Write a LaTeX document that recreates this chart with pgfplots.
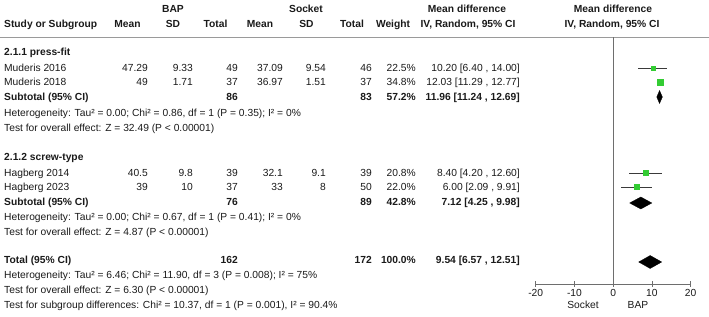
\documentclass[border=0pt]{standalone}
\usepackage{fontspec}
\setmainfont{Liberation Sans}
\usepackage{pgfplots}
\pgfplotsset{compat=1.18}
\definecolor{txt}{HTML}{1A1A1A}
\definecolor{rulec}{HTML}{9A9A9A}
\definecolor{axgray}{HTML}{6E6E6E}
\definecolor{sqgreen}{HTML}{33CC33}
\definecolor{cigray}{HTML}{3A3A3A}

\newcommand{\fs}{\fontsize{10.3}{12}\selectfont}
% y, study, m1, sd1, n1, m2, sd2, n2, weight
\newcommand{\studyrow}[9]{%
  \node[L] at (axis cs:4,-#1) {#2};
  \node[R] at (axis cs:148,-#1) {#3};
  \node[R] at (axis cs:193,-#1) {#4};
  \node[R] at (axis cs:238,-#1) {#5};
  \node[R] at (axis cs:283,-#1) {#6};
  \node[R] at (axis cs:326,-#1) {#7};
  \node[R] at (axis cs:372,-#1) {#8};
  \node[R] at (axis cs:416,-#1) {#9};
}
\newcommand{\mdcell}[2]{\node[R] at (axis cs:520,-#1) {#2};}

\begin{document}
\begin{tikzpicture}[every node/.style={text=txt, inner sep=0pt, font=\fs, text height=1.5ex, text depth=.3ex},
  L/.style={anchor=west}, R/.style={anchor=east}, C/.style={anchor=center}]
\begin{axis}[at={(0,0)}, anchor=south west, scale only axis, width=709bp, height=317bp,
  xmin=0, xmax=709, ymin=-317, ymax=0, axis lines=none, ticks=none, clip=false]
% header rule
\addplot[rulec, line width=1.6pt] coordinates {(0,-37.5) (709,-37.5)};
% headers
\node[C, font=\fs\bfseries] at (axis cs:173,-9) {BAP};
\node[C, font=\fs\bfseries] at (axis cs:306,-9) {Socket};
\node[C, font=\fs\bfseries] at (axis cs:467,-9) {Mean difference};
\node[C, font=\fs\bfseries] at (axis cs:613,-9) {Mean difference};
\node[L, font=\fs\bfseries] at (axis cs:4,-24) {Study or Subgroup};
\node[C, font=\fs\bfseries] at (axis cs:127.5,-24) {Mean};
\node[C, font=\fs\bfseries] at (axis cs:173,-24) {SD};
\node[C, font=\fs\bfseries] at (axis cs:215.5,-24) {Total};
\node[C, font=\fs\bfseries] at (axis cs:260,-24) {Mean};
\node[C, font=\fs\bfseries] at (axis cs:306.5,-24) {SD};
\node[C, font=\fs\bfseries] at (axis cs:352,-24) {Total};
\node[C, font=\fs\bfseries] at (axis cs:393,-24) {Weight};
\node[C, font=\fs\bfseries] at (axis cs:468,-24) {IV, Random, 95\% CI};
\node[C, font=\fs\bfseries] at (axis cs:612,-24) {IV, Random, 95\% CI};
% group 1
\node[L, font=\fs\bfseries] at (axis cs:4,-52) {2.1.1 press-fit};
\studyrow{68}{Muderis 2016}{47.29}{9.33}{49}{37.09}{9.54}{46}{22.5\%}
\mdcell{68}{10.20 [6.40 , 14.00]}
\studyrow{82}{Muderis 2018}{49}{1.71}{37}{36.97}{1.51}{37}{34.8\%}
\mdcell{82}{12.03 [11.29 , 12.77]}
\node[L, font=\fs\bfseries] at (axis cs:4,-97) {Subtotal (95\% CI)};
\node[R, font=\fs\bfseries] at (axis cs:238,-97) {86};
\node[R, font=\fs\bfseries] at (axis cs:372,-97) {83};
\node[R, font=\fs\bfseries] at (axis cs:416,-97) {57.2\%};
\node[R, font=\fs\bfseries] at (axis cs:520,-97) {11.96 [11.24 , 12.69]};
\node[L] at (axis cs:4,-113) {Heterogeneity: Tau² = 0.00; Chi² = 0.86, df = 1 (P = 0.35); I² = 0\%};
\node[L] at (axis cs:4,-128) {Test for overall effect: Z = 32.49 (P < 0.00001)};
% group 2
\node[L, font=\fs\bfseries] at (axis cs:4,-157) {2.1.2 screw-type};
\studyrow{173}{Hagberg 2014}{40.5}{9.8}{39}{32.1}{9.1}{39}{20.8\%}
\mdcell{173}{8.40 [4.20 , 12.60]}
\studyrow{187}{Hagberg 2023}{39}{10}{37}{33}{8}{50}{22.0\%}
\mdcell{187}{6.00 [2.09 , 9.91]}
\node[L, font=\fs\bfseries] at (axis cs:4,-202) {Subtotal (95\% CI)};
\node[R, font=\fs\bfseries] at (axis cs:238,-202) {76};
\node[R, font=\fs\bfseries] at (axis cs:372,-202) {89};
\node[R, font=\fs\bfseries] at (axis cs:416,-202) {42.8\%};
\node[R, font=\fs\bfseries] at (axis cs:520,-202) {7.12 [4.25 , 9.98]};
\node[L] at (axis cs:4,-217) {Heterogeneity: Tau² = 0.00; Chi² = 0.67, df = 1 (P = 0.41); I² = 0\%};
\node[L] at (axis cs:4,-232) {Test for overall effect: Z = 4.87 (P < 0.00001)};
% total
\node[L, font=\fs\bfseries] at (axis cs:4,-260) {Total (95\% CI)};
\node[R, font=\fs\bfseries] at (axis cs:238,-260) {162};
\node[R, font=\fs\bfseries] at (axis cs:372,-260) {172};
\node[R, font=\fs\bfseries] at (axis cs:416,-260) {100.0\%};
\node[R, font=\fs\bfseries] at (axis cs:520,-260) {9.54 [6.57 , 12.51]};
\node[L] at (axis cs:4,-275) {Heterogeneity: Tau² = 6.46; Chi² = 11.90, df = 3 (P = 0.008); I² = 75\%};
\node[L] at (axis cs:4,-290) {Test for overall effect: Z = 6.30 (P < 0.00001)};
\node[L] at (axis cs:4,-305) {Test for subgroup differences: Chi² = 10.37, df = 1 (P = 0.001), I² = 90.4\%};
% axis side labels
\node[C] at (axis cs:583,-305) {Socket};
\node[C] at (axis cs:638,-305) {BAP};
\end{axis}

\begin{axis}[at={(535.7bp,33bp)}, anchor=south west, scale only axis, width=155bp, height=246.5bp,
  xmin=-20, xmax=20, ymin=-284, ymax=-37.5, axis x line=bottom, axis y line=none,
  xtick={-20,-10,0,10,20}, tick align=center, major tick length=6bp,
  axis line style={axgray, line width=0.8pt, -}, tick style={axgray, line width=0.8pt},
  xticklabel style={font=\fs, text=txt, inner sep=1pt},
  /pgf/number format/assume math mode=true, clip=false]
% zero line
\addplot[axgray, line width=0.8pt] coordinates {(0,-37.5) (0,-284)};
% confidence intervals
\addplot[cigray, line width=0.8pt] coordinates {(6.40,-68) (14.00,-68)};
\addplot[cigray, line width=0.8pt] coordinates {(11.29,-82) (12.77,-82)};
\addplot[cigray, line width=0.8pt] coordinates {(4.20,-173) (12.60,-173)};
\addplot[cigray, line width=0.8pt] coordinates {(2.09,-187) (9.91,-187)};
% study estimates
\addplot[only marks, mark=square*, mark size=2bp, sqgreen] coordinates {(10.20,-68)};
\addplot[only marks, mark=square*, mark size=3bp, sqgreen] coordinates {(12.03,-82)};
\addplot[only marks, mark=square*, mark size=2.4bp, sqgreen] coordinates {(8.40,-173)};
\addplot[only marks, mark=square*, mark size=2.4bp, sqgreen] coordinates {(6.00,-187)};
% pooled diamonds
\addplot[fill=black, draw=black, line width=0.3pt] coordinates {(11.24,-97) (11.96,-90.5) (12.69,-97) (11.96,-103.5)} -- cycle;
\addplot[fill=black, draw=black, line width=0.3pt] coordinates {(4.25,-203) (7.12,-197) (9.98,-203) (7.12,-209)} -- cycle;
\addplot[fill=black, draw=black, line width=0.3pt] coordinates {(6.57,-262) (9.54,-255.5) (12.51,-262) (9.54,-268.5)} -- cycle;
\end{axis}
\pgfresetboundingbox
\path (0,0) rectangle (709bp,317bp);
\end{tikzpicture}
\end{document}
